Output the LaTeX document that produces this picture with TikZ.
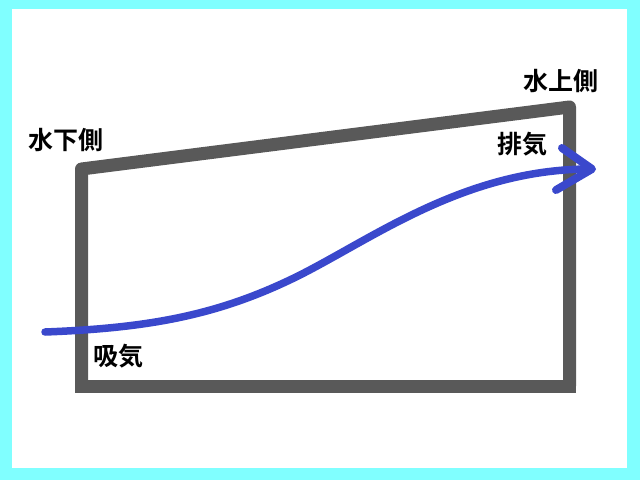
\documentclass[tikz,border=0pt]{standalone}
\usepackage{fontspec}
\newfontfamily\jp{Noto Sans CJK JP}[BoldFont={Noto Sans CJK JP Bold}]
\definecolor{frame}{HTML}{80FFFF}
\definecolor{wall}{HTML}{595959}
\definecolor{flow}{HTML}{3A48CC}
\tikzset{
  wallline/.style={draw=wall, line width=13pt, line join=round},
  flowline/.style={draw=flow, line width=7.5pt, line cap=round, line join=round},
  lbl/.style={font=\jp\bfseries\fontsize{25}{25}\selectfont, inner sep=0pt}
}
\begin{document}
\begin{tikzpicture}[x=1pt,y=-1pt]
\useasboundingbox (0,0) rectangle (640,480);
\fill[frame] (0,0) rectangle (640,480);
\fill[white] (12,9) rectangle (627,468);
% walls
\coordinate (bl) at (81.5,386);
\coordinate (tl) at (81.5,169);
\coordinate (tr) at (569.5,107);
\coordinate (br) at (569.5,386);
\draw[wallline] (bl) -- (tl) -- (tr) -- (br);
\draw[wall, line width=13pt, line cap=rect] (bl) -- (br);
% flow
\coordinate (fs) at (45,332);
\coordinate (fm) at (300,275);
\coordinate (fe) at (588,169);
\coordinate (ft) at (592,169);
\draw[flowline] (fs) .. controls (150,328) and (220,315) .. (fm)
  .. controls (375,237) and (465,170) .. (fe);
\coordinate (a1) at (562,148);
\coordinate (a2) at (556,190);
\draw[flowline, line width=8pt] (a1) -- (ft) -- (a2);
% labels
\node[lbl] (lo) at (66,140) {水下側};
\node[lbl] (hi) at (561,81) {水上側};
\node[lbl] (ex) at (522,144) {排気};
\node[lbl] (in) at (118,356) {吸気};
\end{tikzpicture}
\end{document}
